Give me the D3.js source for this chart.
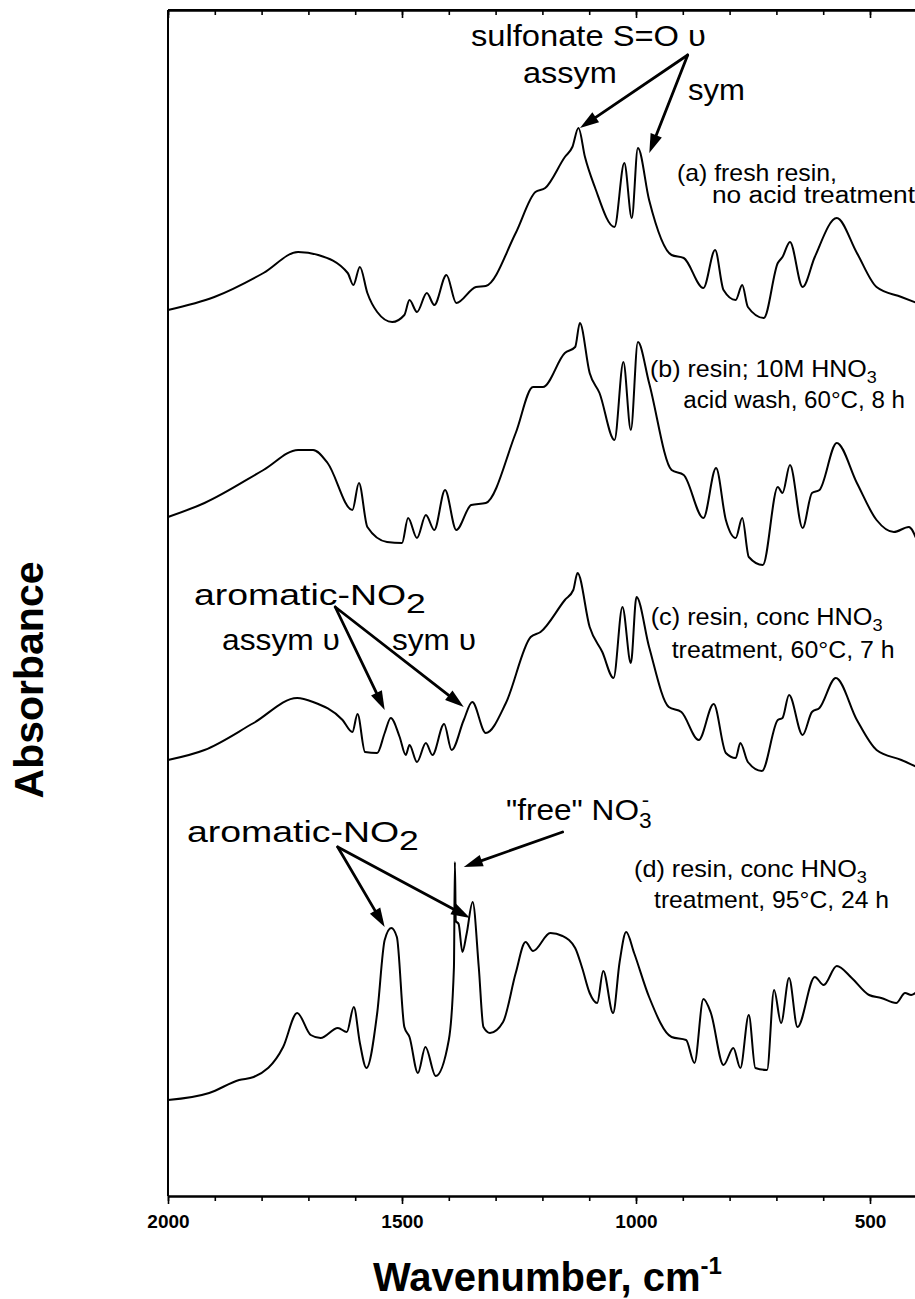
<!DOCTYPE html>
<html>
<head>
<meta charset="utf-8">
<script src="https://cdn.jsdelivr.net/npm/d3@7"></script>
<style>
  html, body { margin: 0; padding: 0; background: #fff; }
  svg { display: block; }
  text { font-family: "Liberation Sans", Arial, Helvetica, sans-serif; fill: #000; }
</style>
</head>
<body>
<svg id="chart" width="915" height="1299"></svg>
<script>
// FTIR spectra of the sulfonated resin, stacked with vertical offsets.
// Each entry: [wavenumber (cm-1), absorbance incl. offset]
const spectrumA = [
  [2000,8.86],[1901,8.99],[1796,9.23],[1722,9.44],[1679,9.41],[1616,9.23],[1604,9.11],[1590,9.29],
  [1574,9.03],[1553,8.84],[1521,8.74],[1495,8.81],[1484,8.96],[1468,8.84],[1447,9.03],[1431,8.91],
  [1405,9.21],[1384,8.93],[1342,9.09],[1321,9.10],[1257,9.63],[1215,10.04],[1194,10.08],[1152,10.39],
  [1136,10.49],[1123,10.68],[1109,10.39],[1088,10.09],[1046,9.69],[1025,10.33],[1009,9.78],[996,10.48],
  [972,9.96],[924,9.41],[898,9.38],[856,9.08],[831,9.46],[813,9.06],[787,8.96],[773,9.11],[761,8.89],
  [727,8.78],[697,9.33],[687,9.39],[671,9.54],[644,9.09],[618,9.39],[571,9.78],[528,9.43],[486,9.09],
  [433,8.99],[400,8.93]
];
const spectrumB = [
  [2000,6.79],[1922,6.93],[1796,7.26],[1722,7.46],[1690,7.46],[1659,7.33],[1606,6.86],[1592,7.13],
  [1574,6.69],[1532,6.54],[1500,6.53],[1487,6.78],[1468,6.58],[1449,6.81],[1431,6.66],[1408,7.06],
  [1384,6.66],[1352,6.91],[1321,6.93],[1257,7.63],[1220,8.09],[1199,8.09],[1152,8.43],[1130,8.49],
  [1120,8.73],[1099,8.23],[1078,8.03],[1046,7.56],[1027,8.34],[1011,7.66],[996,8.54],[972,8.13],
  [924,7.26],[898,7.21],[856,6.78],[829,7.28],[808,6.76],[787,6.58],[773,6.78],[759,6.39],[729,6.31],
  [697,7.09],[687,7.03],[671,7.31],[644,6.68],[624,7.03],[608,7.06],[571,7.53],[528,7.13],[486,6.76],
  [449,6.64],[417,6.69],[400,6.56]
];
const spectrumC = [
  [2000,4.36],[1922,4.46],[1817,4.73],[1724,4.98],[1690,4.94],[1627,4.76],[1606,4.64],[1595,4.82],
  [1579,4.44],[1553,4.43],[1537,4.63],[1524,4.78],[1505,4.59],[1492,4.41],[1484,4.51],[1468,4.34],
  [1449,4.53],[1435,4.41],[1410,4.72],[1394,4.46],[1368,4.76],[1350,4.94],[1321,4.63],[1278,4.93],
  [1225,5.59],[1204,5.64],[1152,5.96],[1134,6.06],[1125,6.23],[1099,5.69],[1072,5.44],[1048,5.18],
  [1029,5.89],[1011,5.33],[999,5.99],[972,5.49],[930,4.89],[903,4.84],[866,4.56],[834,4.92],[808,4.43],
  [787,4.38],[777,4.53],[761,4.34],[731,4.25],[697,4.76],[687,4.78],[673,5.01],[644,4.61],[624,4.84],
  [608,4.88],[573,5.18],[528,4.76],[486,4.46],[433,4.36],[400,4.29]
];
const spectrumD = [
  [2000,0.96],[1912,1.03],[1848,1.16],[1817,1.19],[1754,1.49],[1724,1.83],[1695,1.61],[1674,1.58],
  [1637,1.68],[1618,1.64],[1603,1.89],[1590,1.53],[1576,1.28],[1553,1.83],[1537,2.56],[1523,2.68],
  [1511,2.59],[1495,1.69],[1484,1.59],[1466,1.23],[1450,1.49],[1428,1.20],[1400,1.56],[1389,2.29],
  [1387,3.34],[1385,2.75],[1379,2.72],[1371,2.44],[1362,2.62],[1349,2.94],[1336,2.29],[1326,1.69],
  [1312,1.63],[1284,1.74],[1257,2.23],[1236,2.54],[1220,2.45],[1183,2.63],[1157,2.60],[1130,2.48],
  [1115,2.28],[1099,2.03],[1083,1.93],[1070,2.25],[1049,1.83],[1035,2.34],[1021,2.64],[1004,2.43],
  [972,1.99],[924,1.59],[893,1.56],[875,1.33],[856,1.97],[840,1.83],[813,1.31],[792,1.48],[777,1.28],
  [759,1.81],[745,1.28],[720,1.26],[705,2.06],[690,1.73],[673,2.18],[655,1.69],[618,2.19],[599,2.11],
  [571,2.30],[539,2.18],[502,2.01],[476,1.98],[444,1.93],[425,2.03],[412,2.01],[400,2.04]
];

const majorTicks = [2000, 1500, 1000, 500];
const majorTickLabels = ["2000", "1500", "1000", "500"];
const minorTicks = d3.range(2000, 399, -100);

// Text annotations: position in data units (wavenumber, absorbance) of the baseline start.
const annotationLabels = [
  { parts: ["sulfonate S=O \u03c5"], wn: 1352.6, a: 11.50, size: 30, w: 235 },
  { parts: ["assym"], wn: 1241.5, a: 11.13, size: 30, w: 94 },
  { parts: ["sym"], wn: 888.9, a: 10.96, size: 30, w: 57 },
  { parts: ["(a) fresh resin,"], wn: 912.4, a: 10.15, size: 23, w: 160 },
  { parts: ["no acid treatment"], wn: 837.6, a: 9.93, size: 23, w: 203 },
  { parts: ["(b) resin; 10M HNO", { sub: "3" }], wn: 970.1, a: 8.19, size: 23, w: 227 },
  { parts: ["acid wash, 60\u00b0C, 8 h"], wn: 899, a: 7.88, size: 23, w: 0 },
  { parts: ["(c) resin, conc HNO", { sub: "3" }], wn: 968.6, a: 5.71, size: 23, w: 232 },
  { parts: ["treatment, 60\u00b0C, 7 h"], wn: 923.7, a: 5.38, size: 23, w: 223 },
  { parts: ["(d) resin, conc HNO", { sub: "3" }], wn: 1004.3, a: 3.19, size: 23, w: 233 },
  { parts: ["treatment, 95\u00b0C, 24 h"], wn: 961.5, a: 2.88, size: 23, w: 235 },
  { parts: ["aromatic-NO", { sub: "2", scale: 0.95 }], wn: 1944.4, a: 5.91, size: 30, w: 232 },
  { parts: ["assym \u03c5"], wn: 1884.6, a: 5.46, size: 30, w: 118 },
  { parts: ["sym \u03c5"], wn: 1521.4, a: 5.46, size: 30, w: 84 },
  { parts: ["\"free\" NO", { sub: "3" }, { sup: "-" }], wn: 1277.8, a: 3.76, size: 30, w: 153 },
  { parts: ["aromatic-NO", { sub: "2", scale: 0.95 }], wn: 1959.4, a: 3.54, size: 30, w: 232 }
];

// Arrows: [from, to] in data units (wavenumber, absorbance)
const annotationArrows = [
  [[889.5, 11.41], [1119.7, 10.68]],
  [[889.5, 11.41], [971.6, 10.43]],
  [[1642.7, 5.89], [1537, 4.86]],
  [[1642.7, 5.89], [1368, 4.89]],
  [[1637.4, 3.49], [1537, 2.69]],
  [[1637.4, 3.49], [1354.7, 2.78]],
  [[1156.8, 3.64], [1368, 3.29]]
];

const svg = d3.select("#chart");
const x = d3.scaleLinear().domain([2000, 400]).range([168, 916.8]);
const y = d3.scaleLinear().domain([0, 11.86]).range([1196, 10]);

const [yBottom, yTop] = y.range();
const [xLeft, xRight] = x.range();

// Frame: left, top and right edges
svg.append("line").attr("x1", xLeft).attr("x2", xLeft).attr("y1", yTop).attr("y2", yBottom)
  .attr("stroke", "#000").attr("stroke-width", 2);
svg.append("line").attr("x1", xLeft).attr("x2", xRight).attr("y1", yTop).attr("y2", yTop)
  .attr("stroke", "#000").attr("stroke-width", 2);
svg.append("line").attr("x1", xRight).attr("x2", xRight).attr("y1", yTop).attr("y2", yBottom)
  .attr("stroke", "#000").attr("stroke-width", 2);

// Bottom axis: minor ticks every 100 cm-1, labelled majors every 500 cm-1
const bottomMinor = svg.append("g").attr("transform", `translate(0,${yBottom})`)
  .call(d3.axisBottom(x).tickValues(minorTicks).tickSize(5).tickSizeOuter(0).tickFormat(""));
const bottomMajor = svg.append("g").attr("transform", `translate(0,${yBottom})`)
  .call(d3.axisBottom(x).tickValues(majorTicks).tickSize(8).tickSizeOuter(0).tickPadding(11)
    .tickFormat((d, i) => majorTickLabels[i]));
[bottomMinor, bottomMajor].forEach(g => {
  g.select(".domain").attr("stroke", "#000").attr("stroke-width", 2);
  g.selectAll(".tick line").attr("stroke", "#000").attr("stroke-width", 1.6);
});
bottomMajor.selectAll(".tick text")
  .attr("font-family", "\"Liberation Sans\", Arial, sans-serif")
  .attr("font-size", 19).attr("font-weight", "bold").attr("fill", "#000");

// Top axis: inward ticks, no labels
const topMinor = svg.append("g").attr("transform", `translate(0,${yTop})`)
  .call(d3.axisTop(x).tickValues(minorTicks).tickSize(-5).tickSizeOuter(0).tickFormat(""));
const topMajor = svg.append("g").attr("transform", `translate(0,${yTop})`)
  .call(d3.axisTop(x).tickValues(majorTicks).tickSize(-8).tickSizeOuter(0).tickFormat(""));
[topMinor, topMajor].forEach(g => {
  g.select(".domain").attr("stroke", "#000").attr("stroke-width", 2);
  g.selectAll(".tick line").attr("stroke", "#000").attr("stroke-width", 1.6);
});

// Spectra
const line = d3.line()
  .x(d => x(d[0]))
  .y(d => y(d[1]))
  .curve(d3.curveMonotoneX);

[spectrumA, spectrumB, spectrumC, spectrumD].forEach(s => {
  svg.append("path").datum(s)
    .attr("d", line)
    .attr("fill", "none")
    .attr("stroke", "#000")
    .attr("stroke-width", 2)
    .attr("stroke-linejoin", "round");
});

// Arrows with filled heads
annotationArrows.forEach(([from, to]) => {
  const x1 = x(from[0]), y1 = y(from[1]);
  const x2 = x(to[0]), y2 = y(to[1]);
  const ang = Math.atan2(y2 - y1, x2 - x1);
  const headLen = 19, headHalf = 6;
  const bx = x2 - headLen * Math.cos(ang), by = y2 - headLen * Math.sin(ang);
  svg.append("line")
    .attr("x1", x1).attr("y1", y1).attr("x2", bx).attr("y2", by)
    .attr("stroke", "#000").attr("stroke-width", 2.8).attr("stroke-linecap", "round");
  const px = -Math.sin(ang), py = Math.cos(ang);
  svg.append("path")
    .attr("d", `M${x2},${y2}L${bx + px * headHalf},${by + py * headHalf}L${bx - px * headHalf},${by - py * headHalf}Z`)
    .attr("fill", "#000");
});

// Text labels (sub/superscripts as tspans)
annotationLabels.forEach(l => {
  const g = svg.append("g");
  const t = g.append("text").attr("font-size", l.size);
  let shift = 0;
  l.parts.forEach(p => {
    if (typeof p === "string") {
      t.append("tspan").attr("dy", -shift).text(p);
      shift = 0;
    } else if (p.sub) {
      const fs = l.size * (p.scale || 0.72);
      const d = l.size * 0.28;
      t.append("tspan").attr("font-size", fs).attr("dy", d - shift).text(p.sub);
      shift = d;
    } else if (p.sup) {
      const fs = l.size * 0.7;
      const d = -l.size * 0.45;
      t.append("tspan").attr("font-size", fs).attr("dx", -fs * 0.45).attr("dy", d - shift).text(p.sup);
      shift = d;
    }
  });
  const natural = t.node().getComputedTextLength();
  const sx = l.w ? l.w / natural : 1.05;
  g.attr("transform", `translate(${x(l.wn)},${y(l.a)}) scale(${sx},1)`);
});

// Axis titles
svg.append("text")
  .attr("transform", "translate(43,680) rotate(-90)")
  .attr("text-anchor", "middle")
  .attr("font-size", 41)
  .attr("font-weight", "bold")
  .text("Absorbance");

const xTitle = svg.append("text")
  .attr("x", 373).attr("y", 1291)
  .attr("font-size", 40)
  .attr("font-weight", "bold");
xTitle.append("tspan").text("Wavenumber, cm");
xTitle.append("tspan").attr("font-size", 24).attr("dy", -17).text("-1");
</script>
</body>
</html>
